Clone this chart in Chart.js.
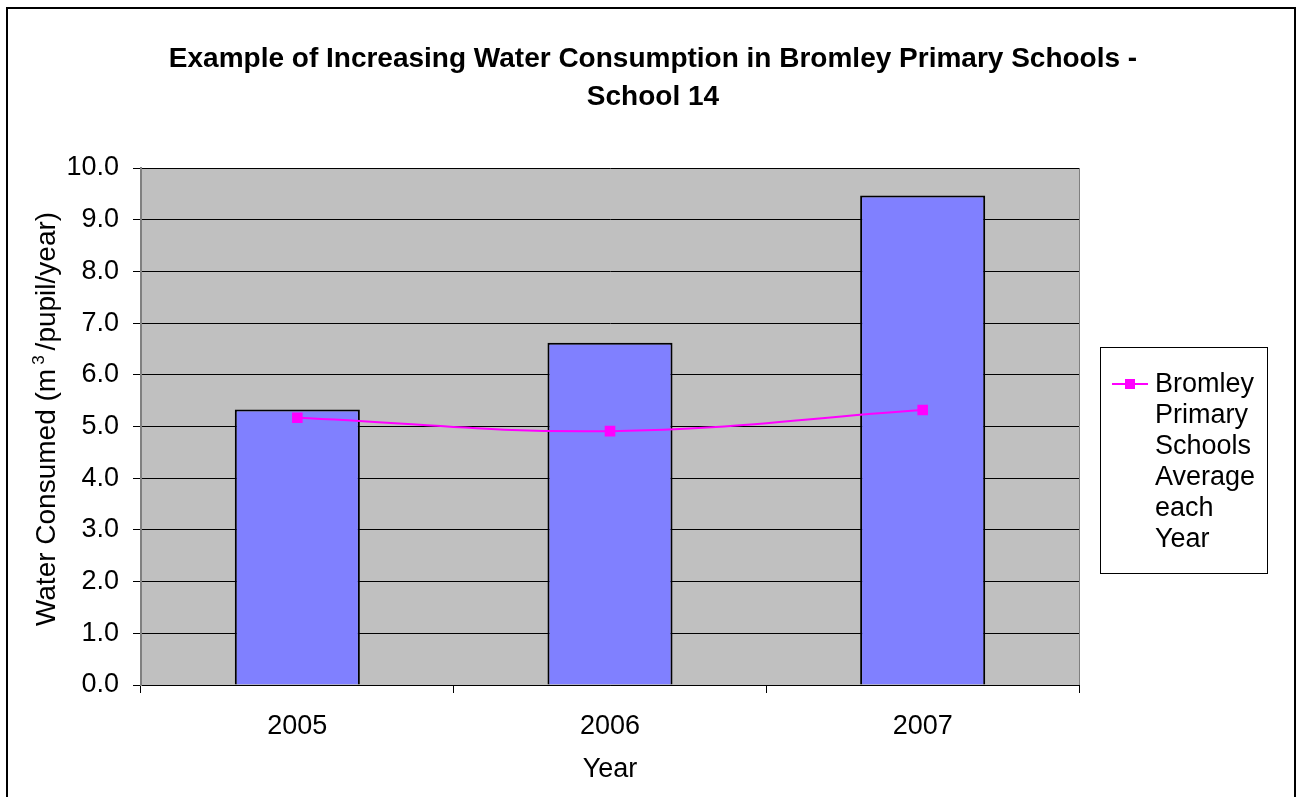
<!DOCTYPE html>
<html>
<head>
<meta charset="utf-8">
<title>Water Consumption - School 14</title>
<script src="https://cdn.jsdelivr.net/npm/chart.js@4.4.1/dist/chart.umd.min.js"></script>
<style>
  html, body { margin: 0; padding: 0; background: #fff; }
  canvas { display: block; }
</style>
</head>
<body>
<canvas id="waterChart" width="1296" height="797"></canvas>
<script>
const years = ['2005', '2006', '2007'];
const school14 = [5.33, 6.62, 9.47];
const bromleyAverage = [5.17, 4.91, 5.32];
const legendLines = ['Bromley', 'Primary', 'Schools', 'Average', 'each', 'Year'];

const FONT = "'Liberation Sans', Arial, sans-serif";

// fond gris de la zone de tracé + cadre extérieur
const plotBackground = {
    id: 'plotBackground',
    beforeDraw(chart) {
        const { ctx, chartArea: a } = chart;
        ctx.save();
        ctx.fillStyle = '#C0C0C0';
        ctx.fillRect(a.left, a.top, a.right - a.left, a.bottom - a.top);
        ctx.restore();
    },
    afterDraw(chart) {
        const { ctx, chartArea: a } = chart;
        ctx.save();
        ctx.strokeStyle = '#808080';
        ctx.lineWidth = 1;
        ctx.beginPath();
        ctx.moveTo(a.right + 0.5, a.top);
        ctx.lineTo(a.right + 0.5, a.bottom);
        ctx.stroke();
        // cadre de la figure
        ctx.strokeStyle = '#000';
        ctx.lineWidth = 2;
        ctx.strokeRect(7, 8, 1288, 800);
        ctx.restore();
    }
};

// titre de l'axe Y avec le 3 en exposant
const yTitle = {
    id: 'yTitle',
    afterDraw(chart) {
        const { ctx } = chart;
        const parts = [
            { t: 'Water Consumed (m', size: 28, rise: 0, gap: 0 },
            { t: '3', size: 17, rise: 11, gap: 4 },
            { t: '/pupil/year)', size: 28, rise: 0, gap: 5 }
        ];
        ctx.save();
        ctx.fillStyle = '#000';
        ctx.textBaseline = 'alphabetic';
        let total = 0;
        parts.forEach(p => {
            ctx.font = p.size + 'px ' + FONT;
            p.w = ctx.measureText(p.t).width;
            total += p.w + p.gap;
        });
        ctx.translate(55, 419);
        ctx.rotate(-Math.PI / 2);
        let x = -total / 2;
        parts.forEach(p => {
            ctx.font = p.size + 'px ' + FONT;
            x += p.gap;
            ctx.fillText(p.t, x, -p.rise);
            x += p.w;
        });
        ctx.restore();
    }
};

// légende encadrée à droite, texte sur plusieurs lignes
const boxLegend = {
    id: 'boxLegend',
    afterDraw(chart) {
        const { ctx } = chart;
        const x = 1100.5, y = 347.5, w = 167, h = 226;
        ctx.save();
        ctx.strokeStyle = '#000';
        ctx.lineWidth = 1;
        ctx.strokeRect(x, y, w, h);
        ctx.strokeStyle = '#FF00FF';
        ctx.lineWidth = 2;
        ctx.beginPath();
        ctx.moveTo(1112, 384);
        ctx.lineTo(1148, 384);
        ctx.stroke();
        ctx.fillStyle = '#FF00FF';
        ctx.fillRect(1125, 379, 10, 10);
        ctx.fillStyle = '#000';
        ctx.font = '27px ' + FONT;
        ctx.textBaseline = 'middle';
        legendLines.forEach((t, i) => ctx.fillText(t, 1155, 385 + i * 31));
        ctx.restore();
    }
};

const ctx = document.getElementById('waterChart').getContext('2d');
new Chart(ctx, {
    data: {
        labels: years,
        datasets: [
            {
                type: 'line',
                label: 'Bromley Primary Schools Average each Year',
                data: bromleyAverage,
                borderColor: '#FF00FF',
                backgroundColor: '#FF00FF',
                borderWidth: 2,
                pointStyle: 'rect',
                pointRadius: 7.5,
                pointBorderWidth: 0,
                tension: 0.4,
                order: 0
            },
            {
                type: 'bar',
                label: 'School 14',
                data: school14,
                backgroundColor: '#8080FF',
                borderColor: '#000',
                borderWidth: 2,
                barPercentage: 0.4,
                categoryPercentage: 1,
                order: 1
            }
        ]
    },
    options: {
        responsive: false,
        animation: false,
        layout: { padding: { left: 10, right: 0, top: 0, bottom: 0 } },
        plugins: {
            legend: { display: false },
            tooltip: { enabled: false },
            title: {
                display: true,
                text: ['Example of Increasing Water Consumption in Bromley Primary Schools -', 'School 14'],
                color: '#000',
                font: { family: FONT, size: 28, weight: 'bold', lineHeight: '38px' },
                padding: { top: 40, bottom: 52 }
            }
        },
        scales: {
            x: {
                offset: true,
                grid: {
                    offset: true,
                    drawOnChartArea: false,
                    color: '#000',
                    tickLength: 8
                },
                border: { color: '#000', width: 1 },
                ticks: {
                    color: '#000',
                    font: { family: FONT, size: 27 },
                    padding: 17
                },
                title: {
                    display: true,
                    text: 'Year',
                    color: '#000',
                    font: { family: FONT, size: 27 },
                    padding: { top: 0, bottom: 11 }
                },
                afterFit(scale) { scale.height = 112; }
            },
            y: {
                min: 0,
                max: 10,
                grid: {
                    color: '#000',
                    tickLength: 8
                },
                border: { color: '#808080', width: 2 },
                ticks: {
                    stepSize: 1,
                    color: '#000',
                    font: { family: FONT, size: 27 },
                    padding: 14,
                    callback: v => v.toFixed(1)
                },
                afterFit(scale) { scale.width = 131; }
            },
            // espace réservé à droite pour la légende
            y2: {
                type: 'linear',
                position: 'right',
                display: true,
                grid: { display: false },
                border: { display: false },
                ticks: { display: false },
                afterFit(scale) { scale.width = 217; }
            }
        }
    },
    plugins: [plotBackground, yTitle, boxLegend]
});
</script>
</body>
</html>
